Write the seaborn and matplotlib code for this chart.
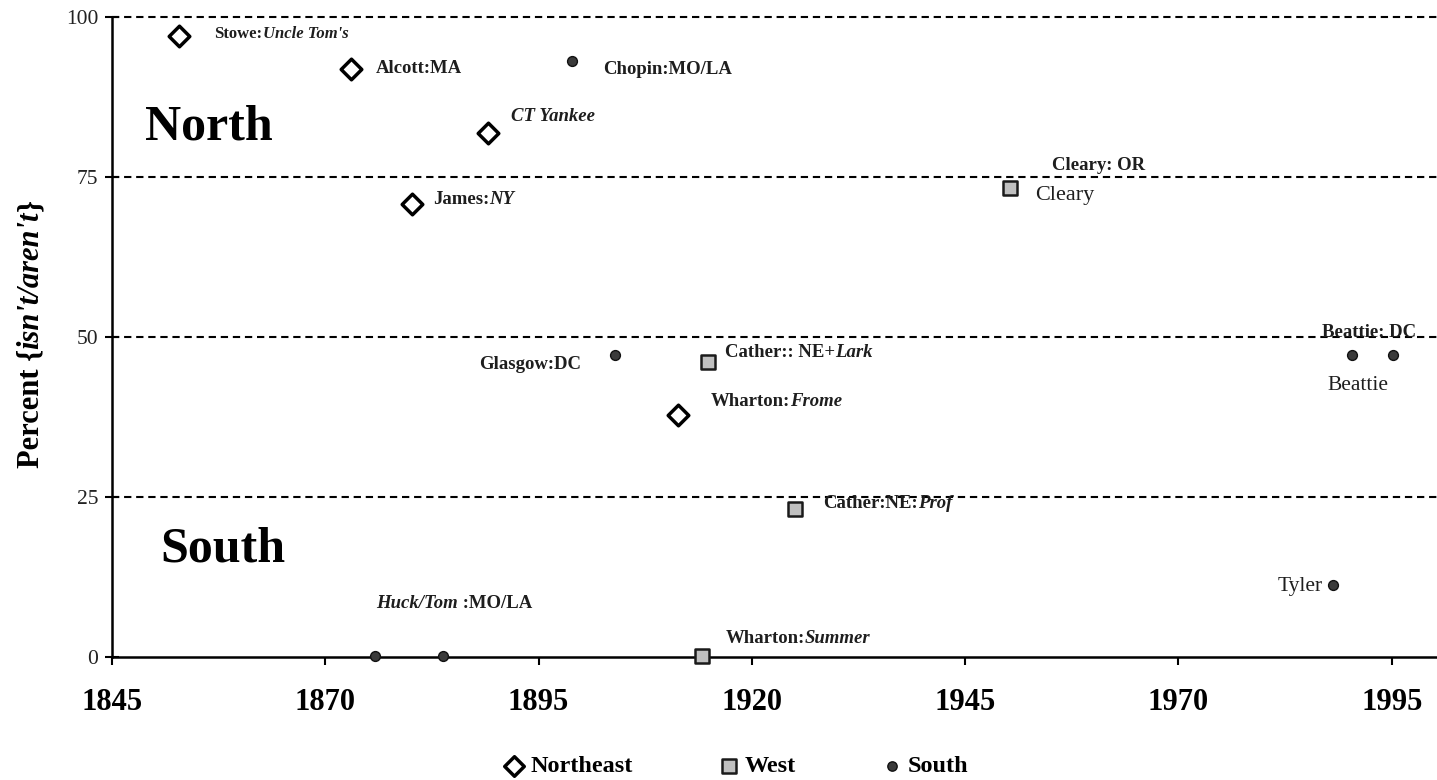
import matplotlib
matplotlib.use("Agg")
import matplotlib.pyplot as plt
import seaborn as sns
import pandas as pd
from matplotlib.offsetbox import TextArea, HPacker, AnnotationBbox

# ---------------- data ----------------
regions = ["Northeast", "West", "South"]

ne_years = [1852.8, 1873.0, 1889.1, 1880.2, 1911.3]
ne_pct = [97.0, 91.9, 81.9, 70.8, 37.8]

west_years = [1950.2, 1914.9, 1925.0, 1914.1]
west_pct = [73.3, 46.1, 23.1, 0.2]

south_years = [1898.9, 1904.0, 1875.8, 1883.8, 1990.3, 1995.1, 1988.1]
south_pct = [93.1, 47.2, 0.2, 0.2, 47.2, 47.2, 11.3]

y_ticks = [0, 25, 50, 75, 100]
x_ticks = [1845, 1870, 1895, 1920, 1945, 1970, 1995]

# label texts: list of (text, weight, style)
BI = ("bold", "italic")
B = ("bold", "normal")
N = ("normal", "normal")
labels = [
    # (region, index, parts, size)
    ("Northeast", 0, [("Stowe:", *B), ("Uncle Tom's", *BI)], 12),
    ("Northeast", 1, [("Alcott:MA", *B)], 13.5),
    ("South", 0, [("Chopin:MO/LA", *B)], 13.5),
    ("Northeast", 2, [("CT Yankee", *BI)], 13.5),
    ("Northeast", 3, [("James:", *B), ("NY", *BI)], 13.5),
    ("West", 0, [("Cleary: OR", *B)], 13.5),
    ("West", 0, [("Cleary", *N)], 16),
    ("South", 4, [("Beattie: DC", *B)], 13.5),
    ("South", 4, [("Beattie", *N)], 15.5),
    ("South", 1, [("Glasgow:DC", *B)], 13.5),
    ("West", 1, [("Cather:: NE+", *B), ("Lark", *BI)], 13.5),
    ("Northeast", 4, [("Wharton:", *B), ("Frome", *BI)], 13.5),
    ("West", 2, [("Cather:NE:", *B), ("Prof", *BI)], 13.5),
    ("South", 2, [("Huck/Tom", *BI), (" :MO/LA", *B)], 13.5),
    ("West", 3, [("Wharton:", *B), ("Summer", *BI)], 13.5),
    ("South", 6, [("Tyler", *N)], 15.5),
]
# label offsets in pixels (dx, dy) and horizontal alignment
label_offsets = [
    (36, 2, "left"), (25, 0, "left"), (31, -8, "left"), (23, 16, "left"),
    (21, 4, "left"), (42, 22, "left"), (26, -8, "left"), (-30, 22, "left"),
    (-24, -31, "left"), (-34, -10, "right"), (17, 9, "left"), (33, 14, "left"),
    (29, 6, "left"), (1, 52, "left"), (24, 17, "left"), (-10, -2, "right"),
]

# ---------------- figure ----------------
sns.set_theme(style="white")
plt.rcParams["font.family"] = ["Liberation Serif", "DejaVu Serif"]
plt.rcParams["text.color"] = "black"
plt.rcParams["xtick.color"] = "black"
plt.rcParams["ytick.color"] = "black"
plt.rcParams["axes.labelcolor"] = "black"

W, H = 1437, 780
fig = plt.figure(figsize=(W / 100, H / 100), dpi=100)
ax = fig.add_axes([112 / W, 1 - 657 / H, 1 - 112 / W, (657 - 17) / H])

df = pd.concat([
    pd.DataFrame({"year": ne_years, "pct": ne_pct, "region": "Northeast"}),
    pd.DataFrame({"year": west_years, "pct": west_pct, "region": "West"}),
    pd.DataFrame({"year": south_years, "pct": south_pct, "region": "South"}),
], ignore_index=True)

styles = {
    "Northeast": dict(marker="D", s=110, color="white", edgecolor="black", linewidth=2.5),
    "West": dict(marker="s", s=115, color="#c0c0c0", edgecolor="#1a1a1a", linewidth=1.8),
    "South": dict(marker="o", s=50, color="#3a3a3a", edgecolor="#111111", linewidth=1.0),
}
for r in regions:
    sub = df[df["region"] == r]
    sns.scatterplot(data=sub, x="year", y="pct", ax=ax, label=r, zorder=5,
                    clip_on=False, **styles[r])

ax.set_xlim(1845, 2000.3)
ax.set_ylim(0, 100)
ax.set_xticks(x_ticks)
ax.set_yticks(y_ticks)
ax.set_xticklabels([str(t) for t in x_ticks], fontsize=22, fontweight="bold")
ax.set_yticklabels([str(t) for t in y_ticks], fontsize=15.5, color="#222222")
ax.set_xlabel("")
ax.set_ylabel("")

for sp in ["top", "right"]:
    ax.spines[sp].set_visible(False)
for sp in ["left", "bottom"]:
    ax.spines[sp].set_linewidth(1.8)
    ax.spines[sp].set_color("black")
ax.tick_params(axis="y", direction="inout", length=10, width=1.5, pad=5, left=True)
ax.tick_params(axis="x", direction="out", length=6, width=1.5, pad=16, bottom=True)

for yv in y_ticks[1:]:
    ax.axhline(yv, color="black", linewidth=1.5, linestyle=(0, (3.5, 2.3)), zorder=1,
               clip_on=False)

# region titles
ax.text((145 - 112) / (W - 112), 1 - (128 - 17) / 640, "North",
        transform=ax.transAxes, fontsize=36, fontweight="bold", ha="left", va="center",
        color="black")
ax.text((160 - 112) / (W - 112), 1 - (550 - 17) / 640, "South",
        transform=ax.transAxes, fontsize=36, fontweight="bold", ha="left", va="center",
        color="black")

# point labels
region_data = {"Northeast": (ne_years, ne_pct), "West": (west_years, west_pct),
               "South": (south_years, south_pct)}
for (reg, idx, parts, fs), (dx, dy, ha) in zip(labels, label_offsets):
    xs, ys = region_data[reg]
    areas = [TextArea(t, textprops=dict(fontsize=fs, fontweight=w, fontstyle=st,
                                        color="#1e1e1e"))
             for t, w, st in parts]
    box = HPacker(children=areas, align="baseline", pad=0, sep=0)
    ab = AnnotationBbox(box, (xs[idx], ys[idx]), xybox=(dx, dy),
                        boxcoords="offset pixels",
                        box_alignment=(0 if ha == "left" else 1, 0.5),
                        frameon=False, pad=0, annotation_clip=False)
    ax.add_artist(ab)

# y label with mixed styles (rotated, chained)
t1 = fig.text(31 / W, 1 - 468 / H, "Percent {", rotation=90, ha="center", va="bottom",
              fontsize=22, fontweight="bold", color="black")
t2 = ax.annotate("isn't/aren't", xy=(0.5, 1), xycoords=t1, rotation=90, ha="center",
                 va="bottom", fontsize=22, fontweight="bold", fontstyle="italic",
                 color="black", annotation_clip=False)
t3 = ax.annotate("}", xy=(0.5, 1), xycoords=t2, rotation=90, ha="center", va="bottom",
                 fontsize=22, fontweight="bold", color="black", annotation_clip=False)

# legend
handles, labs = ax.get_legend_handles_labels()
leg = ax.get_legend()
if leg is not None:
    leg.remove()
fig.legend(handles, labs, loc="lower center", bbox_to_anchor=(0.512, -0.015), ncol=3,
           frameon=False, prop={"weight": "bold", "size": 17.5}, handletextpad=0.2,
           handlelength=0.9, columnspacing=3.5, borderpad=0.1, markerscale=0.95)

fig.savefig("out.png", dpi=100)
